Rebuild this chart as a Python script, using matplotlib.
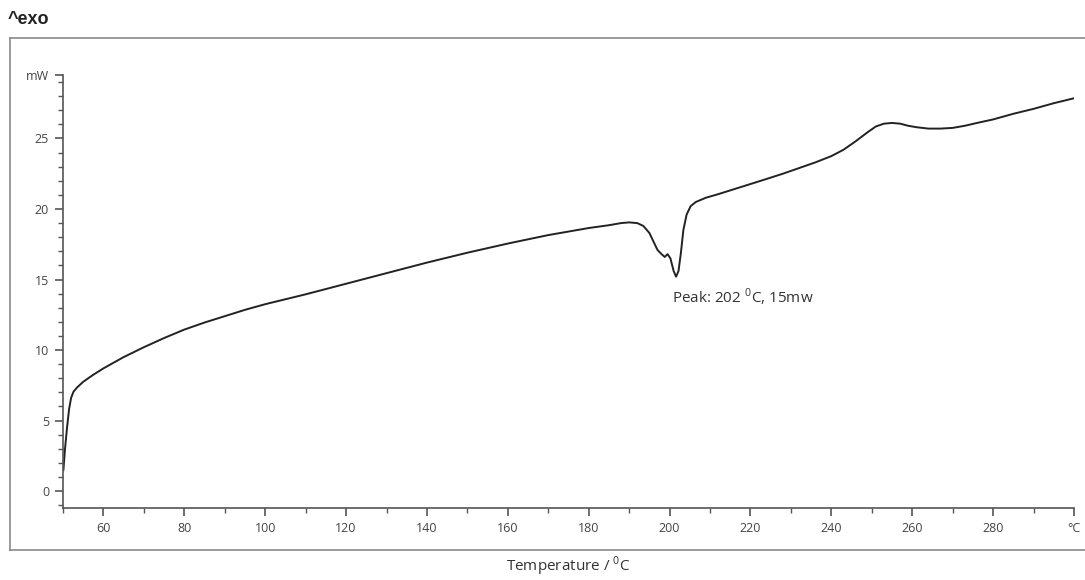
import matplotlib
matplotlib.use("Agg")
import matplotlib.pyplot as plt
from matplotlib.ticker import MultipleLocator, FixedLocator
from matplotlib.lines import Line2D

# DSC curve (temperature in degC, heat flow in mW)
temp = [50.1, 50.5, 51.0, 51.5, 52.0, 52.6, 53.5, 55, 57.5, 60, 65, 70, 75, 80, 85, 90,
        95, 100, 110, 120, 130, 140, 150, 160, 170, 180, 185, 188, 190, 192, 193.5,
        195, 196, 197, 198, 198.8, 199.5, 200.2, 201, 201.6, 202.2, 202.8, 203.4,
        204.2, 205.2, 206.5, 209, 212, 217, 222, 228, 232, 236, 240, 243, 246, 249,
        251, 253, 255, 257, 259, 261, 264, 267, 270, 273, 276, 280, 285, 290, 295, 300]
heat = [1.5, 3.0, 4.5, 5.8, 6.6, 7.05, 7.35, 7.75, 8.25, 8.7, 9.5, 10.2, 10.85, 11.45,
        11.95, 12.4, 12.85, 13.25, 13.95, 14.7, 15.45, 16.2, 16.9, 17.55, 18.15, 18.65,
        18.85, 19.0, 19.05, 19.0, 18.8, 18.3, 17.7, 17.1, 16.8, 16.6, 16.8, 16.5, 15.6,
        15.2, 15.6, 16.9, 18.5, 19.6, 20.2, 20.5, 20.8, 21.05, 21.5, 21.95, 22.5,
        22.9, 23.3, 23.75, 24.2, 24.8, 25.45, 25.85, 26.05, 26.1, 26.05, 25.9, 25.8,
        25.7, 25.7, 25.75, 25.9, 26.1, 26.35, 26.75, 27.1, 27.5, 27.85]

x_ticks = [60, 80, 100, 120, 140, 160, 180, 200, 220, 240, 260, 280, 300]
x_labels = ["60", "80", "100", "120", "140", "160", "180", "200", "220", "240", "260", "280", "\u00b0C"]
y_ticks = [0, 5, 10, 15, 20, 25, 29.5]
y_labels = ["0", "5", "10", "15", "20", "25", "mW"]

peak_text = "Peak: 202 $^0$C, 15mw"

plt.rcParams['font.family'] = ['Open Sans', 'DejaVu Sans']
plt.rcParams['mathtext.fontset'] = 'custom'
plt.rcParams['mathtext.rm'] = 'Open Sans'

fig = plt.figure(figsize=(10.85, 5.8), dpi=100)
ax = fig.add_axes([63 / 1085, 72 / 580, (1074 - 63) / 1085, (508 - 75) / 580])

ax.plot(temp, heat, color="#222222", lw=1.4, solid_joinstyle="round")

ax.set_xlim(50, 300)
ax.set_ylim(-1.2, 29.5)

ax.xaxis.set_major_locator(FixedLocator(x_ticks))
ax.set_xticklabels(x_labels)
ax.xaxis.set_minor_locator(MultipleLocator(10))
ax.yaxis.set_major_locator(FixedLocator(y_ticks))
ax.set_yticklabels(y_labels)
ax.yaxis.set_minor_locator(MultipleLocator(1))

for s in ["top", "right"]:
    ax.spines[s].set_visible(False)
for s in ["left", "bottom"]:
    ax.spines[s].set_color("#555555")
    ax.spines[s].set_linewidth(1.2)

ax.tick_params(which="major", direction="out", length=6, width=1.2, color="#555555",
               labelsize=9, labelcolor="#444444", pad=4)
ax.tick_params(which="minor", direction="out", length=3.5, width=1.0, color="#555555")

ax.text(200.5, 13.7, peak_text, fontsize=11, color="#333333", va="center", ha="left")

ax.set_xlabel("Temperature / $^0$C", fontsize=11, color="#333333", labelpad=14)

# outer frame of the instrument printout
frame_c = "#8a8a8a"
fig.add_artist(Line2D([10 / 1085, 1.0], [1 - 38 / 580] * 2, color=frame_c, lw=1.2))
fig.add_artist(Line2D([10 / 1085] * 2, [1 - 38 / 580, 1 - 550 / 580], color=frame_c, lw=1.2))
fig.add_artist(Line2D([10 / 1085, 1.0], [1 - 550 / 580] * 2, color=frame_c, lw=1.2))

fig.text(8 / 1085, 1 - 20 / 580, "^exo", fontsize=13, fontweight="bold",
         color="#222222", va="center", ha="left", family=["Liberation Sans", "DejaVu Sans"])

fig.savefig("out.png", dpi=100)
